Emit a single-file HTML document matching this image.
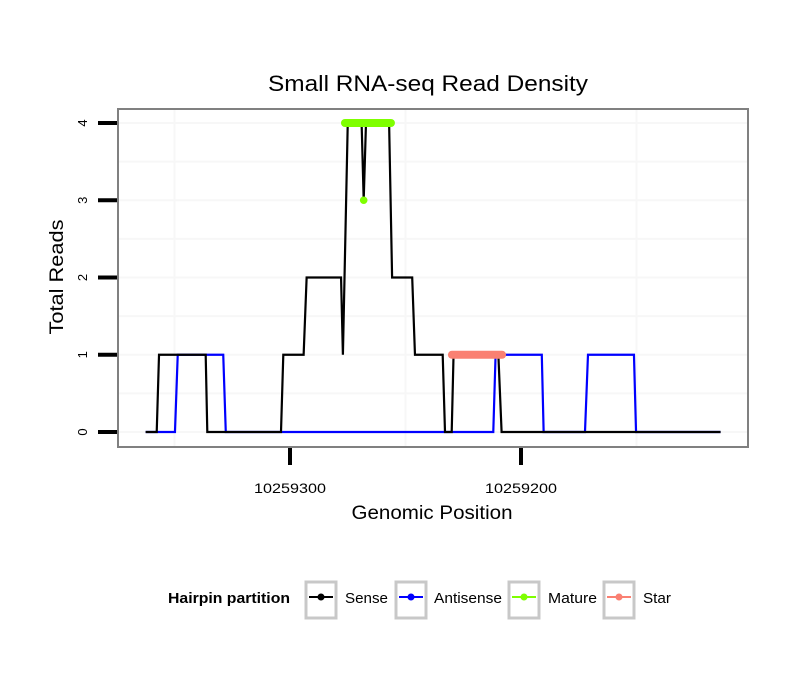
<!DOCTYPE html>
<html><head><meta charset="utf-8"><style>
body{margin:0;background:#fff;}
svg{display:block;font-family:"Liberation Sans",sans-serif;}
</style></head><body>
<svg id="chart" width="810" height="690" viewBox="0 0 810 690" xmlns="http://www.w3.org/2000/svg">
<rect width="810" height="690" fill="#fff"/>
<text x="428" y="91" font-size="22" text-anchor="middle" textLength="320" lengthAdjust="spacingAndGlyphs" fill="#000">Small RNA-seq Read Density</text>
<g id="grid"></g>
<g id="series"></g>
<rect x="118" y="109" width="630" height="338" fill="none" stroke="#808080" stroke-width="2"/>
<g id="axes"></g>
<text x="432" y="519" font-size="19" text-anchor="middle" textLength="161" lengthAdjust="spacingAndGlyphs">Genomic Position</text>
<text transform="translate(63,277) rotate(-90)" font-size="19" text-anchor="middle" textLength="115" lengthAdjust="spacingAndGlyphs">Total Reads</text>
<g>
<text x="168" y="603" font-size="15" font-weight="bold" textLength="122" lengthAdjust="spacingAndGlyphs">Hairpin partition</text>
<g>
<rect x="306" y="582" width="30" height="36" fill="#fff" stroke="#c8c8c8" stroke-width="3"/>
<line x1="309" y1="597" x2="333" y2="597" stroke="#000" stroke-width="2"/><circle cx="321" cy="597" r="3.5" fill="#000"/>
<text x="345" y="603" font-size="15" textLength="43" lengthAdjust="spacingAndGlyphs">Sense</text></g>
<g>
<rect x="396" y="582" width="30" height="36" fill="#fff" stroke="#c8c8c8" stroke-width="3"/>
<line x1="399" y1="597" x2="423" y2="597" stroke="#0000ff" stroke-width="2"/><circle cx="411" cy="597" r="3.5" fill="#0000ff"/>
<text x="434" y="603" font-size="15" textLength="68" lengthAdjust="spacingAndGlyphs">Antisense</text></g>
<g>
<rect x="509" y="582" width="30" height="36" fill="#fff" stroke="#c8c8c8" stroke-width="3"/>
<line x1="512" y1="597" x2="536" y2="597" stroke="#7fff00" stroke-width="2"/><circle cx="524" cy="597" r="3.5" fill="#7fff00"/>
<text x="548" y="603" font-size="15" textLength="49" lengthAdjust="spacingAndGlyphs">Mature</text></g>
<g>
<rect x="604" y="582" width="30" height="36" fill="#fff" stroke="#c8c8c8" stroke-width="3"/>
<line x1="607" y1="597" x2="631" y2="597" stroke="#fa8072" stroke-width="2"/><circle cx="619" cy="597" r="3.5" fill="#fa8072"/>
<text x="643" y="603" font-size="15" textLength="28" lengthAdjust="spacingAndGlyphs">Star</text></g>
</g>
</svg>
<script>
const BASE = 10259000;
const senseX = [362.5,357.7,356.7,336.5,335.8,303.9,302.9,294.1,292.8,277.9,277.1,275.0,269.0,268.1,267.1,257.1,255.8,247.1,245.9,233.9,232.9,230.0,229.2,209.8,208.4,113.6];
const senseY = [0,0,1,1,0,0,1,1,2,2,1,4,4,3,4,4,2,2,1,1,0,0,1,1,0,0];
const antiX = [362.5,349.8,348.6,328.9,327.8,212.0,211.0,191.0,190.2,172.3,171.0,151.1,150.2,113.6];
const antiY = [0,0,1,1,0,0,1,1,0,0,1,1,0,0];
const matureX = [276.2,256.3];
const matureY = [4,4];
const maturePointX = [268.1];
const maturePointY = [3];
const starX = [229.9,208.2];
const starY = [1,1];
const yTicks = [0,1,2,3,4];
const xTicks = [10259300,10259200];
const xTickLabels = ["10259300","10259200"];

const NS = "http://www.w3.org/2000/svg";
function xs(v){ return 290 + (10259300 - v) * 2.31; }
function ys(v){ return 432 - v * 77.25; }
function mk(tag, attrs, parent){ const e=document.createElementNS(NS,tag); for(const k in attrs) e.setAttribute(k,attrs[k]); parent.appendChild(e); return e; }

const grid = document.getElementById('grid');
const series = document.getElementById('series');
const axes = document.getElementById('axes');

for (let v=-0.5; v<=4.5; v+=0.5){
  const y=ys(v); if(y<110||y>446) continue;
  const l=mk('line',{x1:119,x2:747,y1:y,y2:y,stroke:'#f7f7f7','stroke-width':2},grid);
  
  
}
[10259350,10259250,10259150].forEach(v=>{
  const x=xs(v); if(x<119||x>747) return;
  const l=mk('line',{x1:x,x2:x,y1:110,y2:446,stroke:'#f7f7f7','stroke-width':2},grid);
  
  
});

function pts(xa,ya){ return xa.map((x,i)=>xs(BASE+x)+','+ys(ya[i])).join(' '); }

const anti = mk('polyline',{points:pts(antiX,antiY),fill:'none',stroke:'#0000ff','stroke-width':2.2,'stroke-linejoin':'miter'},series);


const sense = mk('polyline',{points:pts(senseX,senseY),fill:'none',stroke:'#000','stroke-width':2.2,'stroke-linejoin':'miter'},series);


const mat = mk('polyline',{points:pts(matureX,matureY),fill:'none',stroke:'#7fff00','stroke-width':8,'stroke-linecap':'round'},series);


maturePointX.forEach((x,i)=>{
  const c=mk('circle',{cx:xs(BASE+x),cy:ys(maturePointY[i]),r:3.8,fill:'#7fff00'},series);
  
  
});
const star = mk('polyline',{points:pts(starX,starY),fill:'none',stroke:'#fa8072','stroke-width':8,'stroke-linecap':'round'},series);



yTicks.forEach(v=>{
  const y=ys(v);
  const t=mk('line',{x1:98,x2:117,y1:y,y2:y,stroke:'#000','stroke-width':4},axes);
  
  
  const lb=mk('text',{transform:'translate(87,'+y+') rotate(-90)','font-size':13,'text-anchor':'middle'},axes);
  lb.textContent=String(v);
  
  
});
xTicks.forEach((v,i)=>{
  const x=xs(v);
  const t=mk('line',{x1:x,x2:x,y1:448,y2:465,stroke:'#000','stroke-width':4},axes);
  
  
  const lb=mk('text',{x:x,y:493,'font-size':13.5,'text-anchor':'middle',textLength:72,lengthAdjust:'spacingAndGlyphs'},axes);
  lb.textContent=xTickLabels[i];
  
  
});
</script>
</body></html>
